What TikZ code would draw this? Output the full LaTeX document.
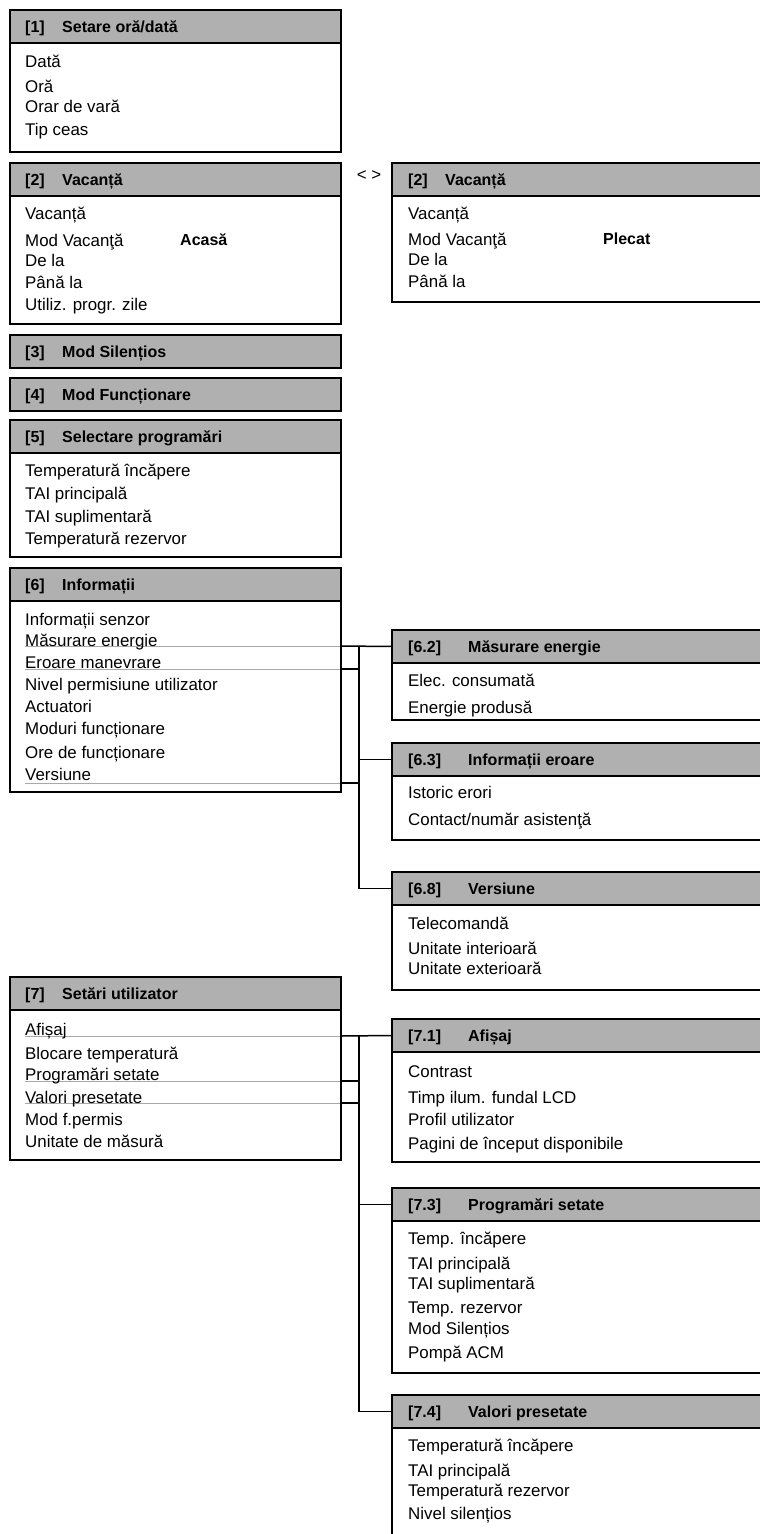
\documentclass[tikz,border=0pt]{standalone}
\usepackage{fontspec}
\setmainfont{Liberation Sans}
\definecolor{headgray}{HTML}{B0B0B0}
\definecolor{linegray}{HTML}{A8A8A8}
\begin{document}
\begin{tikzpicture}[x=1pt,y=-1pt,
	box/.style={draw=black,line width=1.6pt},
	head/.style={draw=black,line width=1.6pt,fill=headgray,inner sep=0pt,outer sep=0pt,minimum height=33pt,minimum width=#1,anchor=north west},
	head/.default=331pt,
	htxt/.style={anchor=west,inner sep=0pt,font=\fontsize{16}{18}\selectfont\bfseries,text height=11.5pt,text depth=0pt},
	item/.style={anchor=west,inner sep=0pt,font=\fontsize{16.9}{20}\selectfont,text height=12pt,text depth=0pt},
	link/.style={line width=1.5pt},
	uline/.style={draw=linegray,line width=1pt}]
	\useasboundingbox (0,0) rectangle (760,1534);
	\clip (0,0) rectangle (760,1534);
	\def\L{10}  % bord stanga coloana 1
	\def\R{392} % bord stanga coloana 2
	% [1]
	\draw[box] (\L,10) rectangle (341,152);
	\node[head] (h1) at (\L,10) {};
	\node[htxt] (t1) at ([xshift=15pt]h1.west) {\makebox[37pt][l]{[1]}Setare oră/dată};
	\foreach \y/\t [count=\k] in {61/Dată,86/Oră,106/Orar de vară,129/Tip ceas}
		\node[item] (i1-\k) at (25,\y) {\t};
	% [2] Acasa / Plecat
	\draw[box] (\L,163) rectangle (341,324);
	\node[head] (h2) at (\L,163) {};
	\node[htxt] (t2) at ([xshift=15pt]h2.west) {\makebox[37pt][l]{[2]}Vacanță};
	\foreach \y/\t [count=\k] in {213/Vacanță,240/Mod Vacanţă,260/De la,282/Până la,304/Utiliz. progr. zile}
		\node[item] (i2-\k) at (25,\y) {\t};
	\node[htxt] (v2) at (180,240) {Acasă};
	\node[item,anchor=center] (sw) at (369,174) {< >};
	\draw[box] (\R,163) rectangle (770,302);
	\node[head=378pt] (h2r) at (\R,163) {};
	\node[htxt] (t2r) at ([xshift=16pt]h2r.west) {\makebox[37pt][l]{[2]}Vacanță};
	\foreach \y/\t [count=\k] in {213/Vacanță,239/Mod Vacanţă,259/De la,281/Până la}
		\node[item] (i2r-\k) at (408,\y) {\t};
	\node[htxt] (v2r) at (603,239) {Plecat};
	% [3] [4]
	\node[head] (h3) at (\L,335) {};
	\node[htxt] (t3) at ([xshift=15pt]h3.west) {\makebox[37pt][l]{[3]}Mod Silențios};
	\node[head] (h4) at (\L,378) {};
	\node[htxt] (t4) at ([xshift=15pt]h4.west) {\makebox[37pt][l]{[4]}Mod Funcționare};
	% [5]
	\draw[box] (\L,420) rectangle (341,557);
	\node[head] (h5) at (\L,420) {};
	\node[htxt] (t5) at ([xshift=15pt]h5.west) {\makebox[37pt][l]{[5]}Selectare programări};
	\foreach \y/\t [count=\k] in {470/Temperatură încăpere,493/TAI principală,516/TAI suplimentară,538/Temperatură rezervor}
		\node[item] (i5-\k) at (25,\y) {\t};
	% [6]
	\draw[box] (\L,568) rectangle (341,792);
	\draw[uline] (25,646) -- (341,646) (25,669) -- (341,669) (25,783) -- (341,783);
	\draw[box] (341,568) -- (341,792);
	\node[head] (h6) at (\L,568) {};
	\node[htxt] (t6) at ([xshift=15pt]h6.west) {\makebox[37pt][l]{[6]}Informații};
	\foreach \y/\t [count=\k] in {619/Informații senzor,640/Măsurare energie,662/Eroare manevrare,684/Nivel permisiune utilizator,706/Actuatori,728/Moduri funcționare,752/Ore de funcționare,774/Versiune}
		\node[item] (i6-\k) at (25,\y) {\t};
	% [6.2] [6.3] [6.8]
	\draw[box] (\R,630) rectangle (770,720);
	\node[head=378pt] (h62) at (\R,630) {};
	\node[htxt] (t62) at ([xshift=16pt]h62.west) {\makebox[60pt][l]{[6.2]}Măsurare energie};
	\foreach \y/\t [count=\k] in {680/Elec. consumată,707/Energie produsă}
		\node[item] (i62-\k) at (408,\y) {\t};
	\draw[box] (\R,743) rectangle (770,840);
	\node[head=378pt] (h63) at (\R,743) {};
	\node[htxt] (t63) at ([xshift=16pt]h63.west) {\makebox[60pt][l]{[6.3]}Informații eroare};
	\foreach \y/\t [count=\k] in {792/Istoric erori,819/{Contact/număr asistenţă}}
		\node[item] (i63-\k) at (408,\y) {\t};
	\draw[box] (\R,872) rectangle (770,990);
	\node[head=378pt] (h68) at (\R,872) {};
	\node[htxt] (t68) at ([xshift=16pt]h68.west) {\makebox[60pt][l]{[6.8]}Versiune};
	\foreach \y/\t [count=\k] in {923/Telecomandă,948/Unitate interioară,968/Unitate exterioară}
		\node[item] (i68-\k) at (408,\y) {\t};
	% legaturi [6]
	\coordinate (u62) at (341,646);
	\coordinate (u63) at (341,669);
	\coordinate (u68) at (341,783);
	\coordinate (bus6) at (359,646);
	\draw[link] (u62) -- (h62.west);
	\draw[link] (bus6) |- (h68.west);
	\draw[link] (bus6 |- h63.west) -- (h63.west);
	\draw[link] (u63) -- (u63 -| bus6);
	\draw[link] (u68) -- (u68 -| bus6);
	% [7]
	\draw[box] (\L,977) rectangle (341,1160);
	\draw[uline] (25,1036) -- (341,1036) (25,1081) -- (341,1081) (25,1103) -- (341,1103);
	\draw[box] (341,977) -- (341,1160);
	\node[head] (h7) at (\L,977) {};
	\node[htxt] (t7) at ([xshift=15pt]h7.west) {\makebox[37pt][l]{[7]}Setări utilizator};
	\foreach \y/\t [count=\k] in {1029/Afișaj,1053/Blocare temperatură,1074/Programări setate,1097/Valori presetate,1119/Mod f.permis,1141/Unitate de măsură}
		\node[item] (i7-\k) at (25,\y) {\t};
	% [7.1] [7.3] [7.4]
	\draw[box] (\R,1019) rectangle (770,1162);
	\node[head=378pt] (h71) at (\R,1019) {};
	\node[htxt] (t71) at ([xshift=16pt]h71.west) {\makebox[60pt][l]{[7.1]}Afișaj};
	\foreach \y/\t [count=\k] in {1071/Contrast,1097/Timp ilum. fundal LCD,1119/Profil utilizator,1143/Pagini de început disponibile}
		\node[item] (i71-\k) at (408,\y) {\t};
	\draw[box] (\R,1188) rectangle (770,1373);
	\node[head=378pt] (h73) at (\R,1188) {};
	\node[htxt] (t73) at ([xshift=16pt]h73.west) {\makebox[60pt][l]{[7.3]}Programări setate};
	\foreach \y/\t [count=\k] in {1238/Temp. încăpere,1263/TAI principală,1283/TAI suplimentară,1307/Temp. rezervor,1328/Mod Silențios,1352/Pompă ACM}
		\node[item] (i73-\k) at (408,\y) {\t};
	\draw[box] (\R,1395) rectangle (770,1550);
	\node[head=378pt] (h74) at (\R,1395) {};
	\node[htxt] (t74) at ([xshift=16pt]h74.west) {\makebox[60pt][l]{[7.4]}Valori presetate};
	\foreach \y/\t [count=\k] in {1445/Temperatură încăpere,1470/TAI principală,1490/Temperatură rezervor,1513/Nivel silențios}
		\node[item] (i74-\k) at (408,\y) {\t};
	% legaturi [7]
	\coordinate (u71) at (341,1036);
	\coordinate (u73) at (341,1081);
	\coordinate (u74) at (341,1103);
	\coordinate (bus7) at (359,1036);
	\draw[link] (u71) -- (h71.west);
	\draw[link] (bus7) |- (h74.west);
	\draw[link] (bus7 |- h73.west) -- (h73.west);
	\draw[link] (u73) -- (u73 -| bus7);
	\draw[link] (u74) -- (u74 -| bus7);
\end{tikzpicture}
\end{document}
